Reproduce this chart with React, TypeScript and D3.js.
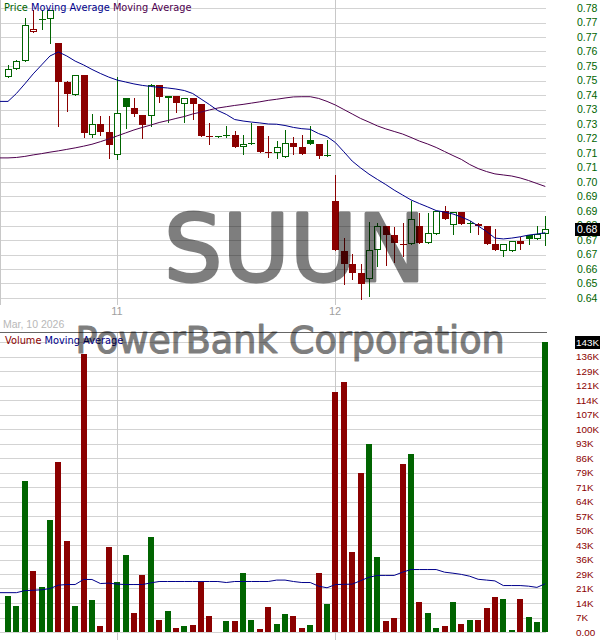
import React from 'react';
import * as d3 from 'd3';

// ---------- DATA ----------
const openP = [0.7532,0.7570,0.7607,0.7743,0.7806,0.7807,0.7694,0.7511,0.7448,0.7541,0.7263,0.7312,0.7275,0.7169,0.7434,0.7387,0.7355,0.7352,0.7496,0.7437,0.7444,0.7408,0.7435,0.7407,0.7256,0.7255,0.7262,0.7260,0.7204,0.7226,0.7304,0.7184,0.7176,0.7157,0.7224,0.7205,0.7238,0.7221,0.7166,0.6953,0.6719,0.6656,0.6614,0.6585,0.6721,0.6833,0.6792,0.6751,0.6749,0.6835,0.6753,0.6799,0.6905,0.6838,0.6900,0.6845,0.6845,0.6835,0.6750,0.6719,0.6716,0.6763,0.6791,0.6772,0.6795];
const highP = [0.7588,0.7613,0.7810,0.7848,0.7848,0.7848,0.7694,0.7515,0.7541,0.7541,0.7359,0.7349,0.7349,0.7532,0.7434,0.7435,0.7355,0.7501,0.7496,0.7443,0.7444,0.7434,0.7435,0.7407,0.7318,0.7257,0.7304,0.7280,0.7261,0.7318,0.7304,0.7255,0.7233,0.7285,0.7252,0.7263,0.7304,0.7221,0.7238,0.7072,0.6780,0.6705,0.6656,0.6852,0.6847,0.6833,0.6829,0.6847,0.6950,0.6894,0.6894,0.6907,0.6930,0.6900,0.6900,0.6859,0.6850,0.6835,0.6819,0.6749,0.6764,0.6783,0.6791,0.6834,0.6881];
const lowP = [0.7532,0.7570,0.7607,0.7743,0.7760,0.7691,0.7304,0.7375,0.7448,0.7253,0.7253,0.7261,0.7155,0.7150,0.7296,0.7352,0.7249,0.7302,0.7416,0.7324,0.7368,0.7324,0.7338,0.7257,0.7221,0.7254,0.7252,0.7207,0.7172,0.7220,0.7183,0.7158,0.7155,0.7157,0.7171,0.7174,0.7221,0.7155,0.7163,0.6723,0.6564,0.6586,0.6492,0.6508,0.6648,0.6653,0.6667,0.6695,0.6749,0.6756,0.6753,0.6799,0.6869,0.6799,0.6846,0.6806,0.6799,0.6752,0.6722,0.6695,0.6716,0.6728,0.6748,0.6772,0.6747];
const closeP = [0.7570,0.7607,0.7776,0.7760,0.7807,0.7848,0.7511,0.7454,0.7541,0.7272,0.7312,0.7277,0.7215,0.7363,0.7391,0.7360,0.7308,0.7496,0.7441,0.7443,0.7413,0.7434,0.7407,0.7257,0.7254,0.7256,0.7258,0.7207,0.7218,0.7220,0.7183,0.7181,0.7205,0.7224,0.7207,0.7174,0.7221,0.7163,0.7164,0.6723,0.6658,0.6616,0.6564,0.6721,0.6835,0.6794,0.6756,0.6749,0.6866,0.6756,0.6800,0.6905,0.6869,0.6900,0.6846,0.6848,0.6837,0.6752,0.6722,0.6749,0.6764,0.6752,0.6775,0.6799,0.6819];
const volume = [17700,12800,74700,30000,22100,55000,84000,44700,12800,137100,15700,2900,41800,24600,37800,9300,28000,46700,5900,10300,2000,2900,3400,25100,7900,0,5400,5400,29000,5900,1500,12300,3900,8800,7900,2000,3400,29000,13800,118400,123300,39300,78600,92900,36900,5400,6900,82600,88000,14700,9300,2000,2900,14700,3900,5900,5900,11800,17200,16200,1000,16200,7400,4900,143000];
const maFast = [0.7419,0.7456,0.7501,0.7548,0.7590,0.7632,0.7651,0.7632,0.7608,0.7590,0.7569,0.7550,0.7533,0.7519,0.7510,0.7501,0.7494,0.7489,0.7485,0.7482,0.7477,0.7470,0.7456,0.7430,0.7404,0.7376,0.7358,0.7334,0.7327,0.7322,0.7318,0.7313,0.7312,0.7306,0.7297,0.7291,0.7288,0.7268,0.7254,0.7226,0.7183,0.7139,0.7107,0.7078,0.7053,0.7029,0.7003,0.6980,0.6957,0.6940,0.6924,0.6907,0.6900,0.6891,0.6877,0.6860,0.6835,0.6809,0.6778,0.6774,0.6778,0.6784,0.6792,0.6797,0.6803];
const maSlow = [0.7154,0.7156,0.7161,0.7168,0.7174,0.7181,0.7187,0.7194,0.7201,0.7209,0.7218,0.7230,0.7243,0.7257,0.7271,0.7285,0.7297,0.7308,0.7320,0.7329,0.7339,0.7348,0.7360,0.7369,0.7379,0.7388,0.7394,0.7400,0.7405,0.7411,0.7417,0.7424,0.7429,0.7435,0.7440,0.7441,0.7441,0.7433,0.7419,0.7402,0.7381,0.7360,0.7339,0.7322,0.7304,0.7290,0.7278,0.7266,0.7250,0.7233,0.7219,0.7203,0.7184,0.7165,0.7147,0.7123,0.7104,0.7090,0.7079,0.7074,0.7069,0.7060,0.7048,0.7034,0.7020];
const volMA = [19400,19400,20400,20600,20800,21400,23100,23400,23400,25900,25900,23900,24100,23600,23400,23400,23400,24200,24900,24900,24900,24900,24900,24900,24900,24900,24400,24900,24900,24900,24900,24900,25600,25600,24900,24400,24400,22600,21800,23400,23500,23600,25300,27000,27900,27900,27900,29500,30800,30800,30800,30800,29500,29000,28400,27500,26000,25600,25200,22900,22900,22900,22600,22000,23800];

const priceTickLabels = ['0.64','0.65','0.66','0.67','0.67','0.68','0.69','0.69','0.70','0.71','0.71','0.72','0.73','0.73','0.74','0.75','0.75','0.76','0.77','0.77','0.78'];
const volTickLabels = ['0.00','7K','14K','21K','29K','36K','43K','50K','57K','64K','71K','79K','86K','93K','100K','107K','114K','121K','129K','136K','143K'];
const priceMin = 0.6497;
const priceMax = 0.7857;
const volMax = 143000;
const xTicks = [{ index: 13, label: '11' }, { index: 39, label: '12' }];
const dateLabel = 'Mar, 10 2026';
const symbol = 'SUUN';
const company = 'PowerBank Corporation';
const lastPriceLabel = '0.68';
const lastVolLabel = '143K';

// ---------- STYLE ----------
const GREEN = '#006400';
const RED = '#8b0000';
const NAVY = '#00008b';
const PURPLE = '#4e004e';
const GRID = '#d3d3d3';
const AXIS_FONT = '"Liberation Sans", Arial, sans-serif';
const LEG_FONT = '"DejaVu Sans", Verdana, sans-serif';

export default function App() {
  const n = closeP.length;
  const plotRight = 546;
  const priceTop = 8, priceBottom = 298;
  const volTop = 342, volBottom = 632;

  const x = d3.scaleLinear().domain([0, n - 1]).range([8, 545.3]);
  const cx = (i: number) => Math.round(x(i));
  const y = d3.scaleLinear().domain([priceMin, priceMax]).range([priceBottom, priceTop]);
  const yv = d3.scaleLinear().domain([0, volMax]).range([volBottom, volTop]);

  const priceTickVals = priceTickLabels.map((_, i) => priceMin + (i * (priceMax - priceMin)) / (priceTickLabels.length - 1));
  const volTickVals = volTickLabels.map((_, i) => (i * volMax) / (volTickLabels.length - 1));

  const isUp = (i: number) => i === 0 || closeP[i] >= closeP[i - 1];

  const lineP = d3.line<[number, number]>().x(d => d[0]).y(d => d[1]);
  const mkPts = (arr: number[], sc: (v: number) => number): [number, number][] => {
    const pts: [number, number][] = arr.map((v, i) => [x(i), sc(v)]);
    return [[0, sc(arr[0])], ...pts];
  };

  const candles = closeP.map((c, i) => {
    const o = openP[i];
    const col = isUp(i) ? GREEN : RED;
    const px = cx(i);
    const yTop = Math.round(y(Math.max(o, c)));
    const yBot = Math.round(y(Math.min(o, c)));
    const h = Math.max(1, yBot - yTop);
    const hollow = c > o;
    const wick = (
      <line key="w" x1={px + 0.5} x2={px + 0.5} y1={Math.round(y(highP[i]))} y2={Math.round(y(lowP[i])) + 1} stroke={col} strokeWidth={1} />
    );
    let body;
    if (h <= 2) {
      body = <rect key="b" x={px - 3} y={yTop} width={7} height={h} fill={col} />;
    } else if (hollow) {
      body = <rect key="b" x={px - 2.5} y={yTop + 0.5} width={6} height={h - 1} fill="#ffffff" stroke={col} strokeWidth={1} />;
    } else {
      body = <rect key="b" x={px - 3} y={yTop} width={7} height={h} fill={col} />;
    }
    return <g key={i}>{wick}{body}</g>;
  });

  const volBars = volume.map((v, i) => {
    if (v <= 0) return null;
    const px = cx(i);
    const top = Math.round(yv(v));
    return <rect key={i} x={px - 3} y={top} width={6} height={volBottom - top} fill={isUp(i) ? GREEN : RED} />;
  });

  const lastClose = closeP[n - 1];
  const lastY = y(lastClose);

  return (
    <svg width={600} height={640} style={{ position: 'absolute', left: 0, top: 0, background: '#fff' }}>
      <rect x={0} y={0} width={600} height={640} fill="#fff" />
      {/* price grid */}
      {priceTickVals.map((v, i) => (
        <line key={i} x1={0} x2={plotRight} y1={Math.round(y(v)) + 0.5} y2={Math.round(y(v)) + 0.5} stroke={GRID} strokeWidth={1} />
      ))}
      <line x1={0.5} x2={0.5} y1={0} y2={305} stroke="#c8c8c8" />
      {xTicks.map(t => (
        <line key={t.label} x1={cx(t.index) + 0.5} x2={cx(t.index) + 0.5} y1={0} y2={305} stroke="#c8c8c8" />
      ))}
      {candles}
      <path d={lineP(mkPts(maSlow, y)) || ''} fill="none" stroke={PURPLE} strokeWidth={1} />
      <path d={lineP(mkPts(maFast, y)) || ''} fill="none" stroke={NAVY} strokeWidth={1} />

      {/* legend */}
      <text x={4} y={10.5} fontFamily={LEG_FONT} fontSize={9.8}>
        <tspan fill={GREEN}>Price </tspan>
        <tspan fill={NAVY}>Moving Average </tspan>
        <tspan fill={PURPLE}>Moving Average</tspan>
      </text>

      {/* price axis */}
      {priceTickVals.map((v, i) => (
        <text key={i} x={577} y={y(v) + 3.8} fontFamily={AXIS_FONT} fontSize={10.5} fill={GREEN}>{priceTickLabels[i]}</text>
      ))}
      <rect x={575} y={Math.round(lastY) - 6} width={25} height={13} fill="#000" />
      <text x={577} y={lastY + 3.8} fontFamily={AXIS_FONT} fontSize={10.5} fill="#fff">{lastPriceLabel}</text>

      {/* x labels */}
      {xTicks.map(t => (
        <text key={t.label} x={cx(t.index)} y={315} textAnchor="middle" fontFamily={AXIS_FONT} fontSize={11} fill="#a0a0a0">{t.label}</text>
      ))}
      <text x={3} y={328} fontFamily={AXIS_FONT} fontSize={10.5} fill="#b8b8b8">{dateLabel}</text>

      <line x1={0} x2={plotRight + 1} y1={332.5} y2={332.5} stroke="#666" strokeWidth={1} />

      {/* volume panel */}
      {volTickVals.map((v, i) => (
        <line key={i} x1={0} x2={plotRight} y1={Math.round(yv(v)) + 0.5} y2={Math.round(yv(v)) + 0.5} stroke={GRID} strokeWidth={1} />
      ))}
      {xTicks.map(t => (
        <line key={t.label} x1={cx(t.index) + 0.5} x2={cx(t.index) + 0.5} y1={333} y2={640} stroke="#c8c8c8" />
      ))}
      {volBars}
      <path d={lineP(mkPts(volMA, yv)) || ''} fill="none" stroke={NAVY} strokeWidth={1} />
      <text x={5} y={344} fontFamily={LEG_FONT} fontSize={9.8}>
        <tspan fill={RED}>Volume </tspan>
        <tspan fill={NAVY}>Moving Average</tspan>
      </text>
      {volTickVals.map((v, i) => (
        <text key={i} x={576} y={yv(v) + 3.6} fontFamily={AXIS_FONT} fontSize={9.9} fill={RED}>{volTickLabels[i]}</text>
      ))}
      <rect x={575} y={volTop - 6} width={25} height={13} fill="#000" />
      <text x={576} y={volTop + 3.6} fontFamily={AXIS_FONT} fontSize={9.9} fill="#fff">{lastVolLabel}</text>

      {/* watermarks */}
      <g opacity={0.5}>
        <text x={295} y={281} textAnchor="middle" fontFamily={LEG_FONT} fontSize={92} fill="#000" stroke="#000" strokeWidth={3} strokeLinejoin="round">{symbol}</text>
        <text x={290} y={353} textAnchor="middle" fontFamily={LEG_FONT} fontSize={36.5} fill="#000" stroke="#000" strokeWidth={1.2} strokeLinejoin="round">{company}</text>
      </g>
    </svg>
  );
}
